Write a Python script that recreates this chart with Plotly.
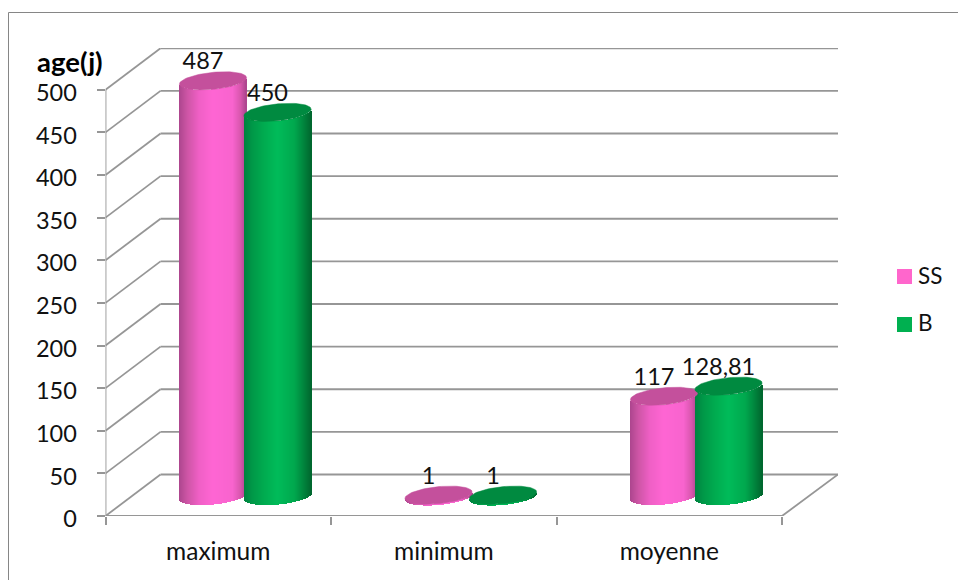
import numpy as np
import plotly.graph_objects as go

# Chart data
categories = ["maximum", "minimum", "moyenne"]
series_names = ["SS", "B"]
ss_values = [487, 1, 117]
b_values = [450, 1, 128.81]
y_ticks = [0, 50, 100, 150, 200, 250, 300, 350, 400, 450, 500]
y_axis_title = "age(j)"

# Page and scale geometry (pixels)
W, H = 958, 580
X0, X_BACK_END = 105.5, 838.0
Y0, Y_TOP = 516.0, 48.0
PX_PER_CAT = 225.5
PX_PER_UNIT = 0.8525
DEPTH_X, DEPTH_Y = 55.0, 41.5

GRID = "#969696"
FRAME = "#868686"
TEXT = "#111111"
FONT = "Lato"
FS_DIGITS = 23.5
FS_CATS = 24.5
FS_LEGEND = 22.5
FS_TITLE = 27.5


def ux(px):
    """Horizontal pixel distance expressed in category units."""
    return px / PX_PER_CAT


def uy(px):
    """Vertical pixel distance expressed in value units."""
    return px / PX_PER_UNIT


# Cylinder shape (pixels)
HALF_W = 33.6
TILT = 3.2
MINOR = 8.5
FLOOR_UP = 20.0
OFFSETS = {"SS": 0.4767, "B": 0.7628}

SHADES = {
    "SS": ([0, 0.12, 0.3, 0.5, 0.8, 0.92, 1],
           [(172, 70, 142), (205, 85, 165), (240, 96, 198), (255, 102, 212),
            (248, 100, 206), (215, 86, 172), (170, 68, 140)]),
    "B": ([0, 0.12, 0.3, 0.5, 0.75, 0.9, 1],
          [(0, 130, 64), (0, 152, 72), (0, 172, 80), (0, 188, 90),
           (0, 168, 78), (0, 130, 60), (0, 102, 46)]),
}
TOP_COLORS = {"SS": "#C4509C", "B": "#008A40"}


def shade(name, p):
    stops, cols = SHADES[name]
    return "rgb(%d,%d,%d)" % tuple(
        np.interp(p, stops, [c[i] for c in cols]) for i in range(3)
    )


fig = go.Figure()

# Side of every cylinder: one narrow bar per pixel column, shaded across the width
for name, values in zip(series_names, [ss_values, b_values]):
    xs, bases, heights, colors = [], [], [], []
    for i, v in enumerate(values):
        cx = i + OFFSETS[name]
        for px in np.arange(-HALF_W + 0.5, HALF_W, 1.0):
            c = px / HALF_W
            xs.append(cx + ux(px))
            bases.append(uy(FLOOR_UP + TILT * c - MINOR * np.sqrt(1 - c * c)))
            heights.append(v)
            colors.append(shade(name, (c + 1) / 2))
    fig.add_trace(go.Bar(
        x=xs, y=heights, base=bases, width=ux(1.5),
        marker=dict(color=colors, line=dict(width=0)),
        hoverinfo="skip", showlegend=False,
    ))

# Top faces and value labels
t = np.linspace(0, 2 * np.pi, 90)
for name, values in zip(series_names, [ss_values, b_values]):
    for i, v in enumerate(values):
        cx = i + OFFSETS[name]
        fig.add_trace(go.Scatter(
            x=cx + ux(HALF_W * np.cos(t)),
            y=v + uy(FLOOR_UP + TILT * np.cos(t) + MINOR * np.sin(t)),
            mode="lines", fill="toself", fillcolor=TOP_COLORS[name],
            line=dict(width=0.5, color=TOP_COLORS[name]),
            hoverinfo="skip", showlegend=False, cliponaxis=False,
        ))
    fig.add_trace(go.Scatter(
        x=[i + OFFSETS[name] + ux(-10) for i in range(len(values))],
        y=[v + uy(FLOOR_UP + 17.5) for v in values],
        text=[str(v).replace(".", ",") for v in values],
        mode="text", textposition="middle center",
        textfont=dict(family=FONT, size=FS_DIGITS, color=TEXT),
        hoverinfo="skip", showlegend=False, cliponaxis=False,
    ))

# Walls, floor and axis lines sit underneath the cylinders
shapes = []


def seg(x0, y0, x1, y1, color=GRID, width=1.8):
    shapes.append(dict(type="line", xref="x", yref="y", layer="below",
                       x0=x0, y0=y0, x1=x1, y1=y1,
                       line=dict(color=color, width=width)))


n_cat = len(categories)
back_end = ux(X_BACK_END - X0)
for v in y_ticks:
    seg(ux(DEPTH_X), v + uy(DEPTH_Y), back_end, v + uy(DEPTH_Y))
    seg(0, v, ux(DEPTH_X), v + uy(DEPTH_Y))
seg(0, 0, 0, y_ticks[-1])
seg(0, 0, n_cat, 0)
seg(n_cat, 0, back_end, uy(DEPTH_Y))


def paper_rect(x0, y0, x1, y1, color):
    shapes.append(dict(type="rect", xref="paper", yref="paper",
                       x0=x0 / W, x1=x1 / W, y0=1 - y1 / H, y1=1 - y0 / H,
                       fillcolor=color, line=dict(width=0)))


def paper_line(x0, y0, x1, y1):
    shapes.append(dict(type="line", xref="paper", yref="paper",
                       x0=x0 / W, x1=x1 / W, y0=1 - y0 / H, y1=1 - y1 / H,
                       line=dict(color=FRAME, width=1)))


# Outer chart border (left and top edges)
paper_line(8.5, 12.5, 8.5, H)
paper_line(8.5, 12.5, W, 12.5)

# Legend
paper_rect(897, 269, 912, 284, "#FF66CC")
paper_rect(897, 317, 912, 332, "#00B050")
annotations = [
    dict(xref="paper", yref="paper", x=916 / W, y=1 - yc / H, text=label,
         xanchor="left", yanchor="middle", showarrow=False,
         font=dict(family=FONT, size=FS_LEGEND, color=TEXT))
    for label, yc in zip(series_names, [275, 323])
]
annotations.append(dict(
    xref="paper", yref="paper", x=70 / W, y=1 - 62 / H,
    text="<b>%s</b>" % y_axis_title, xanchor="center", yanchor="middle",
    showarrow=False, font=dict(family=FONT, size=FS_TITLE, color="#000000"),
))

fig.update_layout(
    template="none",
    width=W, height=H,
    margin=dict(l=0, r=0, t=0, b=0),
    paper_bgcolor="white", plot_bgcolor="white",
    barmode="overlay", bargap=0,
    showlegend=False,
    shapes=shapes, annotations=annotations,
    xaxis=dict(
        automargin=False,
        domain=[X0 / W, X_BACK_END / W], range=[0, back_end],
        tickmode="array", tickvals=[i + 0.5 for i in range(n_cat)],
        ticktext=categories, ticks="", showgrid=False, zeroline=False,
        showline=False, ticklabelstandoff=18,
        tickfont=dict(family=FONT, size=FS_CATS, color=TEXT),
        minor=dict(tickmode="array", tickvals=list(range(n_cat + 1)),
                   ticks="outside", ticklen=8, tickwidth=1.8, tickcolor=GRID,
                   showgrid=False),
    ),
    yaxis=dict(
        automargin=False,
        domain=[1 - Y0 / H, 1 - Y_TOP / H], range=[0, uy(Y0 - Y_TOP)],
        tickmode="array", tickvals=y_ticks, ticks="outside", ticklen=8,
        tickwidth=1.8, tickcolor=GRID, showgrid=False, zeroline=False,
        showline=False, ticklabelstandoff=15, ticklabelshift=3,
        tickfont=dict(family=FONT, size=FS_DIGITS, color=TEXT),
    ),
)

fig.write_html("out.html")
